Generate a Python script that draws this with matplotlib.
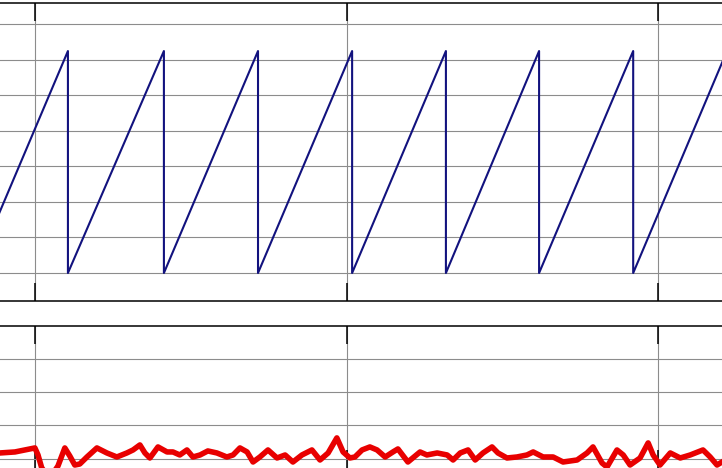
import matplotlib
matplotlib.use("Agg")
import matplotlib.pyplot as plt

# sawtooth (top panel): vertex times and levels
saw_t = [0.804, 1.106, 1.106, 1.414, 1.414, 1.716, 1.716, 2.018, 2.018,
         2.319, 2.319, 2.618, 2.618, 2.920, 2.920, 3.221]
saw_v = [0.0, 6.24, 0.0, 6.24, 0.0, 6.24, 0.0, 6.24, 0.0,
         6.24, 0.0, 6.24, 0.0, 6.24, 0.0, 6.24]

# noisy signal (bottom panel)
sig_t = [0.888, 0.936, 0.968, 0.984, 1.000, 1.010, 1.022, 1.048, 1.074, 1.096,
         1.112, 1.128, 1.144, 1.167, 1.199, 1.231, 1.263, 1.295, 1.315, 1.337,
         1.353, 1.369, 1.395, 1.424, 1.443, 1.465, 1.488, 1.507, 1.530, 1.555,
         1.584, 1.616, 1.636, 1.658, 1.681, 1.700, 1.722, 1.748, 1.777, 1.803,
         1.828, 1.857, 1.889, 1.915, 1.941, 1.969, 1.989, 2.011, 2.027, 2.050,
         2.075, 2.098, 2.124, 2.149, 2.165, 2.197, 2.236, 2.258, 2.291, 2.323,
         2.342, 2.365, 2.390, 2.413, 2.438, 2.467, 2.486, 2.515, 2.547, 2.579,
         2.599, 2.631, 2.663, 2.695, 2.740, 2.772, 2.791, 2.820, 2.836, 2.868,
         2.888, 2.910, 2.942, 2.968, 2.984, 3.006, 3.039, 3.071, 3.103, 3.144,
         3.167, 3.189, 3.205]
sig_v = [0.18, 0.21, 0.27, 0.30, 0.33, 0.12, -0.27, -0.57, -0.21, 0.33,
         0.09, -0.18, -0.15, 0.06, 0.33, 0.18, 0.06, 0.18, 0.27, 0.42,
         0.18, 0.03, 0.36, 0.21, 0.21, 0.12, 0.27, 0.06, 0.12, 0.24,
         0.18, 0.06, 0.12, 0.33, 0.21, -0.09, 0.06, 0.27, 0.03, 0.12,
         -0.09, 0.12, 0.27, -0.03, 0.18, 0.63, 0.21, 0.03, 0.06, 0.27,
         0.36, 0.27, 0.06, 0.21, 0.30, -0.09, 0.21, 0.12, 0.18, 0.12,
         -0.03, 0.18, 0.27, -0.03, 0.18, 0.36, 0.18, 0.03, 0.06, 0.12,
         0.21, 0.06, 0.06, -0.09, -0.03, 0.18, 0.36, -0.12, -0.24, 0.27,
         0.12, -0.18, 0.03, 0.48, 0.12, -0.18, 0.18, 0.03, 0.12, 0.27,
         0.06, -0.18, -0.09]

x_ticks = [1, 2, 3]
top_yticks = [0, 1, 2, 3, 4, 5, 6, 7]
bot_yticks = [0, 1, 2, 3]

fig = plt.figure(figsize=(7.22, 4.68), dpi=100)
ax1 = fig.add_axes([0, 0.3568, 1, 0.6368])
ax2 = fig.add_axes([0, 0, 1, 0.3034])

for ax in (ax1, ax2):
    ax.set_xlim(0.888, 3.205)
    ax.set_xticks(x_ticks)
    ax.grid(True, color='#8c8c8c', linewidth=0.8)
    ax.set_axisbelow(True)
    ax.spines['left'].set_visible(False)
    ax.spines['right'].set_visible(False)
    for s in ('top', 'bottom'):
        ax.spines[s].set_linewidth(1.1)
    ax.tick_params(axis='x', direction='in', length=13, width=1.1,
                   top=True, bottom=True, labelbottom=False, labeltop=False)
    ax.tick_params(axis='y', length=0, labelleft=False)

ax1.plot(saw_t, saw_v, color='#12127e', linewidth=1.5)
ax1.set_ylim(-0.787, 7.59)
ax1.set_yticks(top_yticks)

ax2.plot(sig_t, sig_v, color='#e80000', linewidth=4.0, solid_joinstyle='round')
ax2.set_ylim(-0.269, 3.97)
ax2.set_yticks(bot_yticks)
ax2.spines['bottom'].set_visible(False)

fig.savefig('out.png', dpi=100)
